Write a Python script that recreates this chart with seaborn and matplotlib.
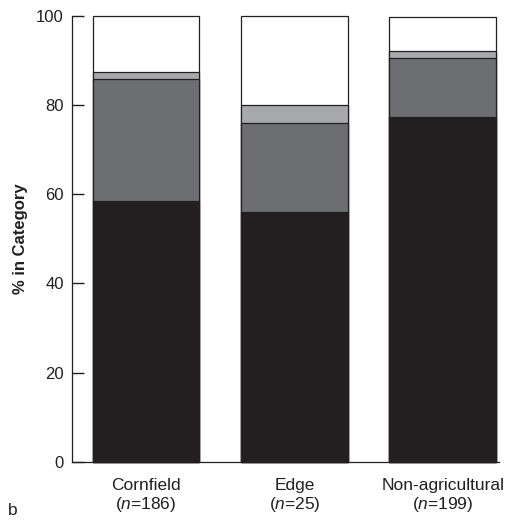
import matplotlib
matplotlib.use("Agg")
import matplotlib.pyplot as plt
import seaborn as sns
import numpy as np
import pandas as pd

# Habitat categories and sample sizes
categories = ["Cornfield", "Edge", "Non-agricultural"]
sample_sizes = [186, 25, 199]

# Percentage in each category, stacked bottom to top
pct_black = [58.6, 56.0, 77.4]
pct_dark = [27.4, 20.0, 13.3]
pct_light = [1.5, 4.0, 1.5]
pct_white = [12.5, 20.0, 7.6]

y_ticks = [0, 20, 40, 60, 80, 100]

layer_colors = ["#231f20", "#6d6e71", "#a7a9ac", "#ffffff"]
ink = "#231f20"

sns.set_theme(style="ticks")
plt.rcParams["font.family"] = ["Liberation Sans", "DejaVu Sans"]
plt.rcParams["mathtext.fontset"] = "custom"
plt.rcParams["mathtext.it"] = "Liberation Sans:italic"
plt.rcParams["mathtext.rm"] = "Liberation Sans"

fig = plt.figure(figsize=(5.12, 5.2), dpi=100)
ax = fig.add_axes([0.1406, 0.1123, 0.834, 0.8564])

layers = [pct_black, pct_dark, pct_light, pct_white]
cum = np.cumsum(np.array(layers), axis=0)

# Draw cumulative totals from the top layer down so each lower layer covers the one above
for i in range(len(layers) - 1, -1, -1):
    df = pd.DataFrame({"cat": categories, "val": cum[i]})
    sns.barplot(data=df, x="cat", y="val", order=categories, color=layer_colors[i],
                saturation=1, width=0.72, edgecolor=ink, linewidth=0.9,
                ax=ax, errorbar=None, zorder=2)

for p in ax.patches:
    p.set_clip_on(False)

ax.set_xlim(-0.5, 2.38)
ax.set_ylim(0, 100)
ax.set_yticks(y_ticks)
ax.set_yticklabels([str(v) for v in y_ticks])
ax.set_xticks(range(len(categories)))
ax.set_xticklabels([f"{c}\n($\\it{{n}}$=$\\mathrm{{{n}}}$)" for c, n in zip(categories, sample_sizes)],
                   fontsize=12.5, color=ink, linespacing=1.1)
ax.tick_params(axis="x", length=0, pad=12)
ax.tick_params(axis="y", length=0, pad=6, labelsize=12, labelcolor=ink)

# Inward-pointing y tick marks
ax.hlines(y_ticks, 0, 0.028, transform=ax.get_yaxis_transform(), colors=ink,
          linewidth=1.0, clip_on=False, zorder=5)

ax.set_xlabel("")
ax.set_ylabel("% in Category", fontsize=12, fontweight="bold", color=ink, labelpad=6)

for side in ["top", "right"]:
    ax.spines[side].set_visible(False)
for side in ["left", "bottom"]:
    ax.spines[side].set_color(ink)
    ax.spines[side].set_linewidth(0.9)

fig.text(0.015, 0.003, "b", fontsize=12.5, color=ink, ha="left", va="bottom")

fig.savefig("out.png", dpi=100)
